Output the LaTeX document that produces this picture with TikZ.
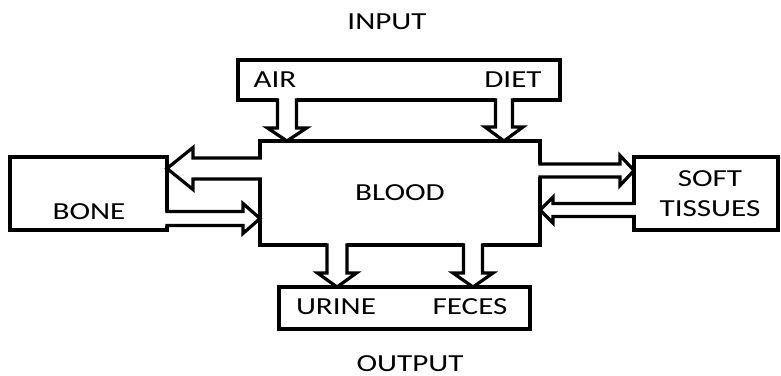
\documentclass[tikz,border=0pt]{standalone}
\usepackage{fontspec}
\setmainfont[FakeStretch=1.27]{Carlito}
\usetikzlibrary{calc}

\tikzset{
  box/.style={draw, line width=3.5pt, inner sep=0pt, outer sep=0pt},
  txt/.style={font=\fontsize{24.5}{30}\selectfont, inner sep=0pt, align=center},
  arrowline/.style={line width=3.2pt, line join=miter, line cap=butt},
  ar/.style={shift={(\p1)}, rotate=\n1},
}

% Hollow block arrow whose shaft opens into the box it leaves.
% #1 base point, #2 tip point, #3 half shaft width, #4 half head width, #5 head length
\newcommand\hollowarrow[5]{%
  \fill[white] let \p1=(#1), \p2=(#2),
      \n1={atan2(\y2-\y1,\x2-\x1)}, \n2={veclen(\x2-\x1,\y2-\y1)} in
    ([ar]-2,-#3) -- ([ar]\n2-#5,-#3) -- ([ar]\n2-#5,-#4) -- ([ar]\n2,0)
    -- ([ar]\n2-#5,#4) -- ([ar]\n2-#5,#3) -- ([ar]-2,#3) -- cycle;
  \draw[arrowline] let \p1=(#1), \p2=(#2),
      \n1={atan2(\y2-\y1,\x2-\x1)}, \n2={veclen(\x2-\x1,\y2-\y1)} in
    ([ar]-1.75,-#3) -- ([ar]\n2-#5,-#3) -- ([ar]\n2-#5,-#4) -- ([ar]\n2,0)
    -- ([ar]\n2-#5,#4) -- ([ar]\n2-#5,#3) -- ([ar]-1.75,#3);
}

\begin{document}
\begin{tikzpicture}[x=1pt, y=-1pt]
  \useasboundingbox (0,0) rectangle (781,375);

  % boxes
  \node[box, minimum width=322pt, minimum height=40pt]  (intake) at (399,80) {};
  \node[box, minimum width=280pt, minimum height=104pt] (blood)  at (400,193) {};
  \node[box, minimum width=157pt, minimum height=73pt]  (bone)   at (88.5,193.5) {};
  \node[box, minimum width=144pt, minimum height=73pt]  (soft)   at (706,193.5) {};
  \node[box, minimum width=251pt, minimum height=42pt]  (output) at (404.5,308) {};

  % labels
  \node[txt] (inlabel)  at (387,22)    {INPUT};
  \node[txt] (air)      at (275,80)    {AIR};
  \node[txt] (diet)     at (513,80)    {DIET};
  \node[txt] (bloodtxt) at (400,193)   {BLOOD};
  \node[txt] (bonetxt)  at (89,212)    {BONE};
  \node[txt] (softtxt)  at (710,193.5) {SOFT\\TISSUES};
  \node[txt] (urine)    at (336,307)   {URINE};
  \node[txt] (feces)    at (470,307)   {FECES};
  \node[txt] (outlabel) at (410,364)   {OUTPUT};

  % intake into blood
  \hollowarrow{$(intake.south west)+(49,0)$}{$(blood.north west)+(27,0)$}{9.5}{19.5}{13}
  \hollowarrow{$(intake.south west)+(266,0)$}{$(blood.north west)+(244,0)$}{8.5}{19}{14}
  % blood into output
  \hollowarrow{$(blood.south west)+(77,0)$}{$(output.north west)+(58,0)$}{10}{19.5}{14}
  \hollowarrow{$(blood.south west)+(213,0)$}{$(output.north west)+(194,0)$}{9.5}{20}{14}
  % blood <-> bone
  \hollowarrow{$(blood.north west)+(0,27.5)$}{$(bone.north east)+(0,11.5)$}{10.5}{21}{26}
  \hollowarrow{$(bone.north east)+(0,61.5)$}{$(blood.north west)+(0,77.5)$}{7}{15}{17}
  % blood <-> soft tissues
  \hollowarrow{$(blood.north east)+(0,29.5)$}{$(soft.north west)+(0,13.5)$}{6.5}{15}{14}
  \hollowarrow{$(soft.north west)+(0,53)$}{$(blood.north east)+(0,69)$}{6.5}{13}{13}
\end{tikzpicture}
\end{document}
